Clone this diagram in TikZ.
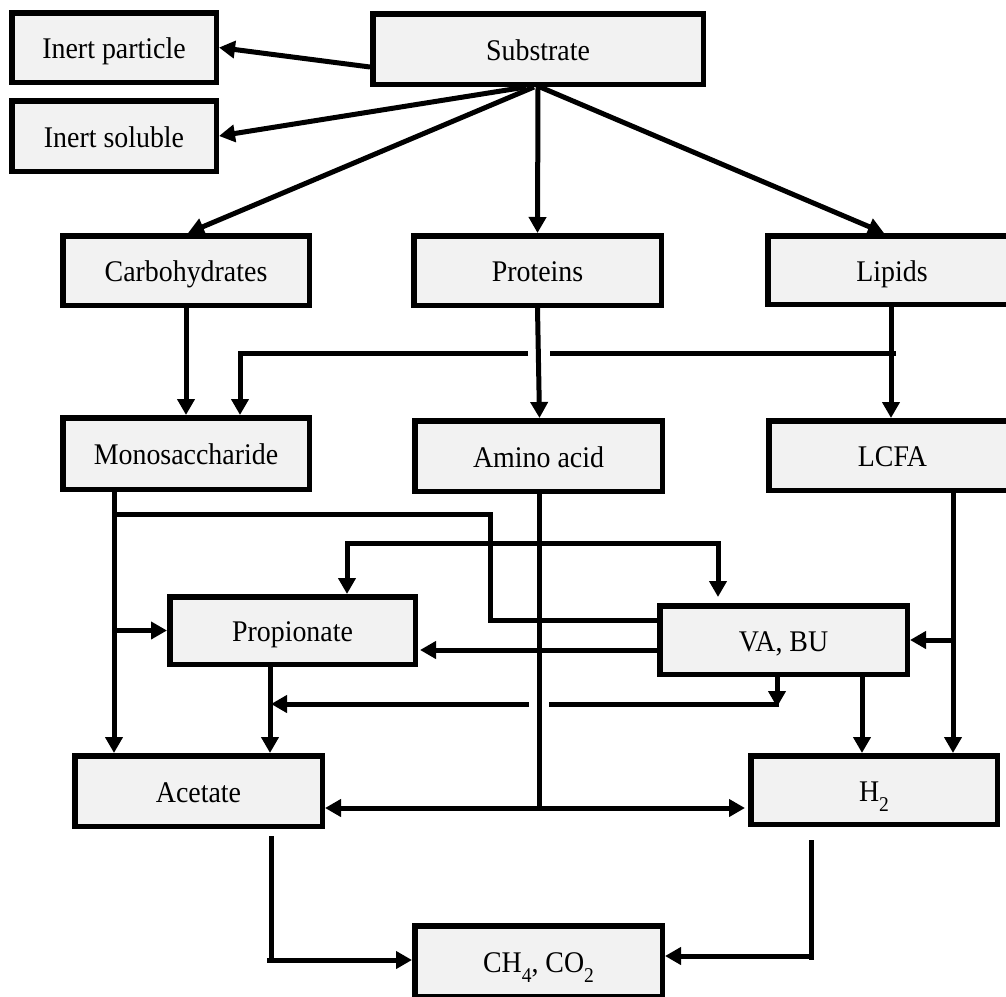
\documentclass[tikz,border=0pt]{standalone}
\usepackage{fontspec}
\setmainfont{Liberation Serif}[FakeStretch=0.93]
\usetikzlibrary{arrows.meta,calc}
\definecolor{boxgrey}{HTML}{F2F2F2}
\newcommand\mysub[1]{\raisebox{-10pt}{\fontsize{21}{21}\selectfont #1}}
\begin{document}
\begin{tikzpicture}[x=1pt,y=-1pt,
  box/.style={draw, line width=5.5pt, fill=boxgrey, inner sep=0pt,
    font=\fontsize{30}{34}\selectfont, text height=25pt, text depth=3pt},
  conn/.style={line width=5pt},
  arr/.style={conn, -{Triangle[length=16pt,width=17pt]}},
  darr/.style={conn, {Triangle[length=16pt,width=17pt]}-{Triangle[length=16pt,width=17pt]}}
]
\useasboundingbox (0,0) rectangle (1006,996);
\clip (0,0) rectangle (1006,996);

% boxes
\node[box, minimum width=204.5pt, minimum height=69.5pt] (ip) at (114,47.5) {Inert particle};
\node[box, minimum width=204.5pt, minimum height=70.5pt] (is) at (114,136) {Inert soluble};
\node[box, minimum width=330.5pt, minimum height=70.5pt] (sub) at (538,49) {Substrate};
\node[box, minimum width=246.5pt, minimum height=69.5pt] (carb) at (186,270.5) {Carbohydrates};
\node[box, minimum width=247.5pt, minimum height=69.5pt] (prot) at (537.5,270.5) {Proteins};
\node[box, minimum width=248.5pt, minimum height=68.5pt] (lip) at (892,270) {Lipids};
\node[box, minimum width=246.5pt, minimum height=71.5pt] (mono) at (186,453.5) {Monosaccharide};
\node[box, minimum width=247.5pt, minimum height=70.5pt] (amino) at (538.5,456) {Amino acid};
\node[box, minimum width=247.5pt, minimum height=69.5pt] (lcfa) at (892.5,455.5) {LCFA};
\node[box, minimum width=245.5pt, minimum height=67.5pt] (pro) at (292.5,630.5) {Propionate};
\node[box, minimum width=247.5pt, minimum height=68.5pt] (va) at (783.5,640) {VA, BU};
\node[box, minimum width=247.5pt, minimum height=70.5pt] (ac) at (198.5,791) {Acetate};
\node[box, minimum width=246.5pt, minimum height=68.5pt] (h2) at (874,790) {H\mysub{2}};
\node[box, minimum width=247.5pt, minimum height=70.5pt] (ch4) at (538.5,961) {CH\mysub{4}, CO\mysub{2}};

% substrate fan
\draw[arr] ([yshift=-18pt]sub.west) -- (ip.east);
\draw[arr] ([xshift=-12pt]sub.south) -- (is.east);
\draw[arr] ([xshift=-4pt]sub.south) -- ([xshift=2pt]carb.north);
\draw[arr] (sub.south) -- (prot.north);
\draw[arr] ([xshift=2pt]sub.south) -- ([xshift=-8pt]lip.north);

% second row
\draw[arr] (carb.south) -- (mono.north);
\draw[arr] (prot.south) -- ([xshift=1pt]amino.north);
\draw[arr] ([xshift=-1pt]lip.south) -- ([xshift=-1.5pt]lcfa.north);
\coordinate (bR) at (896,353);
\coordinate (gR) at (550,353);
\coordinate (gL) at (528,353);
\coordinate (bL) at (240,353);
\draw[conn] (bR) -- (gR);
\draw[arr] (gL) -- (bL) -- (mono.north -| bL);

% monosaccharide branches
\coordinate (m1) at (114,514);
\coordinate (m2) at (490,514);
\coordinate (m3) at (490,620);
\coordinate (m4) at (114,630.5);
\draw[arr] (mono.south -| m1) -- (ac.north -| m1);
\draw[conn] (m1) -- (m2) -- (m3) -- (va.west |- m3);
\draw[arr] (m4) -- (pro.west);

% bracket between propionate and VA,BU
\coordinate (u1) at (347,543);
\coordinate (u2) at (718,543);
\draw[darr, shorten >=6pt] (pro.north -| u1) -- (u1) -- (u2) -- (va.north -| u2);

% VA,BU -> propionate
\coordinate (vp) at (657,650);
\draw[arr, shorten >=2pt] (va.west |- vp) -- (pro.east |- vp);

% LCFA line
\coordinate (l1) at (953,640);
\draw[arr] (lcfa.south -| l1) -- (h2.north -| l1);
\draw[arr] (l1) -- (va.east |- l1);

% VA,BU bottom branches
\coordinate (v0) at (777,707);
\coordinate (v1) at (777,704);
\coordinate (g2R) at (549,704);
\coordinate (g2L) at (529,704);
\coordinate (v2) at (271,704);
\draw[arr] (va.south -| v0) -- (v0);
\draw[conn] ([xshift=2pt]v1) -- (g2R);
\draw[arr] (g2L) -- (v2);
\draw[arr] ([xshift=78.5pt]va.south) -- ([xshift=-12pt]h2.north);

% propionate -> acetate
\coordinate (p1) at (270,700);
\draw[arr] (pro.south -| p1) -- (ac.north -| p1);

% amino acid -> acetate / H2
\coordinate (a1) at (539,808);
\draw[conn] (amino.south -| a1) -- (a1);
\draw[arr] (a1) -- (ac.east |- a1);
\draw[arr, shorten >=3pt] (a1) -- (h2.west |- a1);

% to CH4, CO2
\coordinate (c0) at (271,836);
\coordinate (c1) at (271,960);
\coordinate (c3) at (811,840);
\coordinate (c2) at (811,956);
\draw[conn] (c0) -- ([yshift=-2pt]c1);
\draw[arr] ([xshift=-4pt]c1) -- (ch4.west |- c1);
\draw[conn] (c3) -- ([yshift=-4pt]c2);
\draw[arr] ([xshift=2pt]c2) -- (ch4.east |- c2);
\end{tikzpicture}
\end{document}
